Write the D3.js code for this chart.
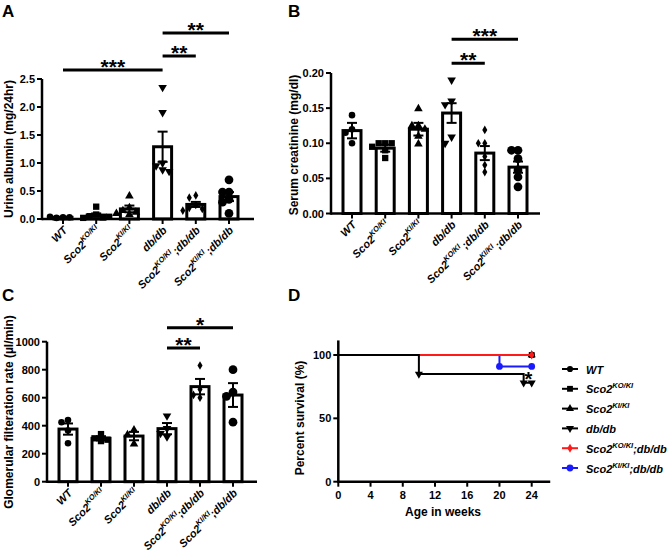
<!DOCTYPE html>
<html><head><meta charset="utf-8">
<script src="https://cdn.jsdelivr.net/npm/d3@7"></script>
<style>
body{margin:0;background:#fff}
svg{display:block}
text{font-family:"Liberation Sans",Arial,sans-serif;font-weight:bold;fill:#000}
</style>
</head><body>
<svg id="chart" width="667" height="555"></svg>
<script>
// ---------- data ----------
const categories = ["WT","Sco2KO/KI","Sco2KI/KI","db/db","Sco2KO/KI;db/db","Sco2KI/KI;db/db"];
const catBase = ["WT","Sco2","Sco2","db/db","Sco2","Sco2"];
const catSup  = ["","KO/KI","KI/KI","","KO/KI","KI/KI"];
const catTail = ["","","","",";db/db",";db/db"];

// A: urine albumin (mg/24hr)
const albuminTicks = [0,0.5,1.0,1.5,2.0,2.5];
const albuminMean = [0.03,0.07,0.18,1.29,0.26,0.40];
const albuminSEM  = [0.006,0.03,0.06,0.27,0.045,0.08];
const albuminPoints = [
  [0.03,0.02,0.03,0.04],
  [0.22,0.08,0.05,0.03,0.02,0.04],
  [0.41,0.2,0.15,0.12,0.1,0.08],
  [2.35,1.9,1.0,0.95,0.88,0.85],
  [0.42,0.38,0.25,0.2,0.18,0.15],
  [0.7,0.48,0.48,0.35,0.3,0.1]
];
const albuminSig = [
  {a:0,b:3,y:2.66,label:"***"},
  {a:3,b:4,y:2.91,label:"**"},
  {a:3,b:5,y:3.32,label:"**"}
];

// B: serum creatinine (mg/dl)
const creatTicks = [0,0.05,0.10,0.15,0.20];
const creatMean = [0.118,0.093,0.120,0.143,0.086,0.066];
const creatSEM  = [0.011,0.005,0.009,0.014,0.010,0.008];
const creatPoints = [
  [0.14,0.12,0.115,0.10],
  [0.10,0.10,0.10,0.095,0.09,0.079],
  [0.149,0.125,0.125,0.12,0.11,0.099],
  [0.19,0.16,0.155,0.109,0.10],
  [0.119,0.10,0.10,0.081,0.069,0.059],
  [0.09,0.09,0.078,0.062,0.052,0.038]
];
const creatSig = [
  {a:3,b:4,y:0.214,label:"**"},
  {a:3,b:5,y:0.248,label:"***"}
];

// C: GFR (µl/min)
const gfrTicks = [0,200,400,600,800,1000];
const gfrMean = [376,310,326,379,679,619];
const gfrSEM  = [40,15,30,40,55,85];
const gfrPoints = [
  [440,425,365,275],
  [340,310,300,290],
  [370,335,270],
  [470,380,345,320],
  [830,660,620,600],
  [800,640,610,425]
];
const gfrSig = [
  {a:3,b:4,y:955,label:"**"},
  {a:3,b:5,y:1100,label:"*"}
];

// D: survival
const survTicksX = [0,4,8,12,16,20,24];
const survTicksY = [0,50,100];
const survTimes  = [[0,24],[0,24],[0,24],[0,10,23,24],[0,24],[0,20,24]];
const survValues = [[100,100],[100,100],[100,100],[100,85,78,78],[100,100],[100,91,91]];
const survColors = ["#000","#000","#000","#000","#ff1a1a","#1a1aff"];
const survOrder = [0,1,2,5,4,3];

// ---------- drawing ----------
const svg = d3.select("#chart");
const FONT_TICK = 11;
const symTypes = [d3.symbolCircle,d3.symbolSquare,d3.symbolTriangle,d3.symbolTriangle,d3.symbolDiamond,d3.symbolCircle];
const symSizes = [34,40,32,32,22,60];
const symRot   = [0,0,0,180,0,0];

function addLabelText(sel, i, supSize, tailDx){
  sel.append("tspan").text(catBase[i]);
  if (catSup[i]) sel.append("tspan").attr("font-size",supSize).attr("dy",-5).text(catSup[i]);
  if (catTail[i]) sel.append("tspan").attr("dy",catSup[i]?5:0).attr("dx",tailDx).text(catTail[i]);
}

function swarm(vals, y, cx, r, step){
  const placed=[];
  return vals.map(v=>{
    const py=y(v);
    const offs=[0,-1,1,-2,2,-3,3];
    for (const o of offs){
      const px=cx+o*step;
      if (placed.every(p=>Math.hypot(p[0]-px,p[1]-py)>=2*r-0.5)){placed.push([px,py]);return [px,py];}
    }
    placed.push([cx,py]);return [cx,py];
  });
}

function barPanel(cfg){
  const g = svg.append("g");
  const y = d3.scaleLinear().domain([0,cfg.ticks[cfg.ticks.length-1]]).range([cfg.y0,cfg.yTop]);
  const x = d3.scalePoint().domain(categories).range(cfg.xr);
  const y0 = cfg.y0;
  const bw = 18;
  categories.forEach((c,i)=>{
    const cx = x(c);
    g.append("rect").attr("x",cx-bw/2).attr("y",y(cfg.mean[i])).attr("width",bw)
      .attr("height",y0-y(cfg.mean[i])).attr("fill","#fff").attr("stroke","#000").attr("stroke-width",3);
  });
  categories.forEach((c,i)=>{
    const cx=x(c);
    const pts = swarm(cfg.points[i], y, cx, 3.5, 6.5);
    pts.forEach(p=>{
      g.append("path").attr("d",d3.symbol().type(symTypes[i]).size(symSizes[i])())
        .attr("transform",`translate(${p[0]},${p[1]}) rotate(${symRot[i]})`).attr("fill","#000");
    });
  });
  categories.forEach((c,i)=>{
    const cx=x(c), hi=y(cfg.mean[i]+cfg.sem[i]), lo=y(cfg.mean[i]-cfg.sem[i]);
    g.append("line").attr("x1",cx).attr("x2",cx).attr("y1",hi).attr("y2",lo).attr("stroke","#000").attr("stroke-width",2);
    [hi,lo].forEach(yy=>g.append("line").attr("x1",cx-5).attr("x2",cx+5).attr("y1",yy).attr("y2",yy).attr("stroke","#000").attr("stroke-width",2));
  });
  g.append("line").attr("x1",cfg.ax).attr("x2",cfg.axEnd).attr("y1",y0).attr("y2",y0).attr("stroke","#000").attr("stroke-width",2.5);
  g.append("line").attr("x1",cfg.ax).attr("x2",cfg.ax).attr("y1",y0+1.2).attr("y2",y(cfg.ticks[cfg.ticks.length-1])).attr("stroke","#000").attr("stroke-width",2.5);
  cfg.ticks.forEach(t=>{
    g.append("line").attr("x1",cfg.ax-5).attr("x2",cfg.ax).attr("y1",y(t)).attr("y2",y(t)).attr("stroke","#000").attr("stroke-width",2);
    g.append("text").attr("x",cfg.ax-7).attr("y",y(t)+4).attr("text-anchor","end").attr("font-size",FONT_TICK).text(d3.format(cfg.fmt)(t));
  });
  categories.forEach((c,i)=>{
    const cx=x(c);
    g.append("line").attr("x1",cx).attr("x2",cx).attr("y1",y0).attr("y2",y0+5).attr("stroke","#000").attr("stroke-width",2);
    const t = g.append("text").attr("transform",`translate(${cx+5},${y0+12}) rotate(-45)`)
      .attr("text-anchor","end").attr("font-size",FONT_TICK).attr("font-style","italic");
    addLabelText(t,i,7.5,cfg.tailDx);
  });
  g.append("text").attr("transform",`translate(${cfg.titleX},${cfg.titleY}) rotate(-90)`).attr("text-anchor","middle")
    .attr("font-size",12).text(cfg.title);
  cfg.sig.forEach(s=>{
    const ly=y(s.y);
    const xa=x(categories[s.a]), xb=x(categories[s.b]);
    g.append("line").attr("x1",Math.min(xa,xb)).attr("x2",Math.max(xa,xb)).attr("y1",ly).attr("y2",ly).attr("stroke","#000").attr("stroke-width",3);
    g.append("text").attr("x",(xa+xb)/2).attr("y",ly+4).attr("text-anchor","middle").attr("font-size",21).text(s.label);
  });
  g.append("text").attr("x",cfg.letterX).attr("y",cfg.letterY).attr("font-size",17).text(cfg.letter);
}

barPanel({letter:"A",letterX:2,letterY:17,ticks:albuminTicks,fmt:".1f",mean:albuminMean,sem:albuminSEM,points:albuminPoints,sig:albuminSig,
  y0:219,yTop:79,xr:[63,229],ax:42,axEnd:254,title:"Urine albumin (mg/24hr)",titleX:13,titleY:149,tailDx:2});
barPanel({letter:"B",letterX:288,letterY:17,ticks:creatTicks,fmt:".2f",mean:creatMean,sem:creatSEM,points:creatPoints,sig:creatSig,
  y0:213.5,yTop:73,xr:[352,518],ax:331,axEnd:540,title:"Serum creatinine (mg/dl)",titleX:298,titleY:145,tailDx:2});
barPanel({letter:"C",letterX:2,letterY:301,ticks:gfrTicks,fmt:"d",mean:gfrMean,sem:gfrSEM,points:gfrPoints,sig:gfrSig,
  y0:481.7,yTop:341.7,xr:[68,233],ax:47,axEnd:257,title:"Glomerular filteration rate (\u00b5l/min)",titleX:13,titleY:412,tailDx:0});

// ---------- panel D ----------
(function(){
  const g=svg.append("g");
  const x=d3.scaleLinear().domain([0,24]).range([338.3,531.7]);
  const y=d3.scaleLinear().domain([0,100]).range([481.7,355]);
  const line=d3.line().x(d=>x(d[0])).y(d=>y(d[1])).curve(d3.curveStepAfter);
  const dSym=[d3.symbolCircle,d3.symbolSquare,d3.symbolTriangle,d3.symbolTriangle,d3.symbolDiamond,d3.symbolCircle];
  const dRot=[0,0,0,180,0,0];
  const dSize=[30,34,28,28,24,36];
  survOrder.forEach(k=>{
    const pts=survTimes[k].map((t,j)=>[t,survValues[k][j]]);
    g.append("path").attr("d",line(pts)).attr("fill","none").attr("stroke",survColors[k]).attr("stroke-width",2);
    pts.slice(1).forEach(p=>{
      g.append("path").attr("d",d3.symbol().type(dSym[k]).size(dSize[k])())
        .attr("transform",`translate(${x(p[0])},${y(p[1])}) rotate(${dRot[k]})`).attr("fill",survColors[k]);
    });
  });
  g.append("text").attr("x",x(23.6)).attr("y",y(79)+4).attr("text-anchor","middle").attr("font-size",20).text("*");
  g.append("line").attr("x1",x(0)).attr("x2",x(26.3)).attr("y1",y(0)).attr("y2",y(0)).attr("stroke","#000").attr("stroke-width",2.5);
  g.append("line").attr("x1",x(0)).attr("x2",x(0)).attr("y1",y(0)+1.2).attr("y2",y(111.5)).attr("stroke","#000").attr("stroke-width",2.5);
  survTicksX.forEach(t=>{
    g.append("line").attr("x1",x(t)).attr("x2",x(t)).attr("y1",y(0)).attr("y2",y(0)+5).attr("stroke","#000").attr("stroke-width",2);
    g.append("text").attr("x",x(t)).attr("y",y(0)+17).attr("text-anchor","middle").attr("font-size",FONT_TICK).text(t);
  });
  survTicksY.forEach(t=>{
    g.append("line").attr("x1",x(0)-5).attr("x2",x(0)).attr("y1",y(t)).attr("y2",y(t)).attr("stroke","#000").attr("stroke-width",2);
    g.append("text").attr("x",x(0)-7).attr("y",y(t)+4).attr("text-anchor","end").attr("font-size",FONT_TICK).text(t);
  });
  g.append("text").attr("x",443).attr("y",516).attr("text-anchor","middle").attr("font-size",12).text("Age in weeks");
  g.append("text").attr("transform",`translate(304,418) rotate(-90)`).attr("text-anchor","middle").attr("font-size",12).text("Percent survival (%)");
  categories.forEach((c,i)=>{
    const ly=369+i*19.8;
    g.append("line").attr("x1",562).attr("x2",578).attr("y1",ly).attr("y2",ly).attr("stroke",survColors[i]).attr("stroke-width",2);
    g.append("path").attr("d",d3.symbol().type(dSym[i]).size(dSize[i])()).attr("transform",`translate(570,${ly}) rotate(${dRot[i]})`).attr("fill",survColors[i]);
    const t=g.append("text").attr("x",586).attr("y",ly+4.5).attr("font-size",11).attr("font-style","italic");
    addLabelText(t,i,7.5,0);
  });
  g.append("text").attr("x",288).attr("y",301).attr("font-size",17).text("D");
})();
</script>
</body></html>
